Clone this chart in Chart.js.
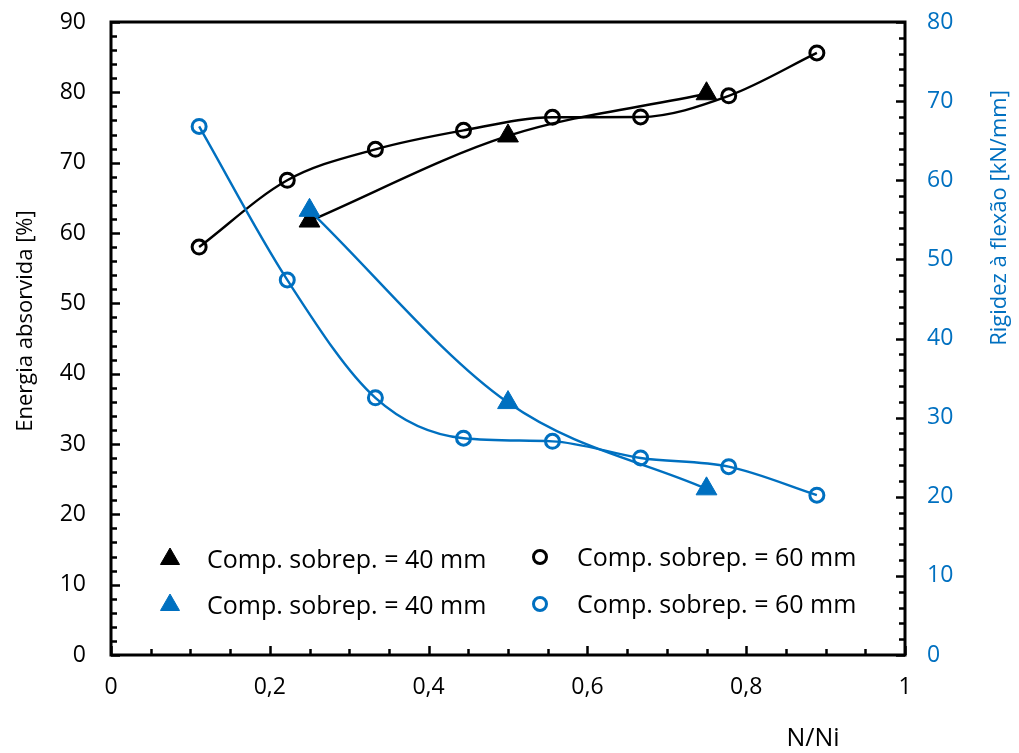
<!DOCTYPE html>
<html>
<head>
<meta charset="utf-8">
<script src="https://cdn.jsdelivr.net/npm/chart.js@4.4.0/dist/chart.umd.min.js"></script>
<style>
  html, body { margin: 0; padding: 0; background: #fff; }
  #caixa { width: 1019px; height: 753px; position: relative; }
</style>
</head>
<body>
<div id="caixa"><canvas id="grafico"></canvas></div>
<script>
// N/Ni dos ensaios
const nTri = [0.25, 0.5, 0.75];
const nCirc = [0.111, 0.222, 0.333, 0.444, 0.556, 0.667, 0.778, 0.889];

// energia absorvida [%]
const energia40 = [61.7, 73.8, 79.8];
const energia60 = [58.0, 67.5, 71.9, 74.6, 76.45, 76.5, 79.5, 85.6];

// rigidez a flexao [kN/mm]
const rigidez40 = [56.2, 31.9, 21.0];
const rigidez60 = [66.8, 47.4, 32.5, 27.4, 27.0, 24.9, 23.8, 20.2];

const legendas = ['Comp. sobrep. = 40 mm', 'Comp. sobrep. = 60 mm'];

const AZUL = '#0070C0';
const PRETO = '#000000';
const FONTE = '"Open Sans", "Noto Sans", sans-serif';

const pontos = (xs, ys) => xs.map((x, i) => ({ x: x, y: ys[i] }));

const serie = (dados, eixo, cor, estilo) => ({
  data: dados,
  yAxisID: eixo,
  showLine: true,
  cubicInterpolationMode: 'monotone',
  borderColor: cor,
  borderWidth: 2.4,
  pointStyle: estilo,
  pointRadius: estilo === 'triangle' ? 12 : 7,
  pointBorderWidth: estilo === 'triangle' ? 1 : 3,
  pointBorderColor: cor,
  pointBackgroundColor: estilo === 'triangle' ? cor : 'rgba(0,0,0,0)',
  fill: false
});

// moldura, marcas internas, titulos e legenda
const extras = {
  id: 'extras',
  afterDraw(chart) {
    const ctx = chart.ctx;
    const a = chart.chartArea;
    const sx = chart.scales.x, sy = chart.scales.y, sy2 = chart.scales.y2;
    ctx.save();
    ctx.strokeStyle = PRETO;
    ctx.lineWidth = 2.5;

    ctx.beginPath();
    for (let v = 0; v <= 90.001; v += 2) {
      const y = Math.round(sy.getPixelForValue(v)) + 0.5;
      const t = (Math.round(v) % 10 === 0) ? 9 : 6;
      ctx.moveTo(a.left, y); ctx.lineTo(a.left + t, y);
    }
    for (let v = 0; v <= 80.001; v += 2) {
      const y = Math.round(sy2.getPixelForValue(v)) + 0.5;
      const t = (Math.round(v) % 10 === 0) ? 9 : 6;
      ctx.moveTo(a.right, y); ctx.lineTo(a.right - t, y);
    }
    for (let k = 0; k <= 20; k++) {
      const x = Math.round(sx.getPixelForValue(k * 0.05)) + 0.5;
      const t = (k % 4 === 0) ? 9 : 6;
      ctx.moveTo(x, a.bottom); ctx.lineTo(x, a.bottom - t);
    }
    ctx.stroke();

    ctx.lineWidth = 3;
    ctx.strokeRect(a.left, a.top, a.right - a.left, a.bottom - a.top);

    // titulos dos eixos
    ctx.font = '22px ' + FONTE;
    ctx.textAlign = 'center';
    ctx.textBaseline = 'middle';
    ctx.fillStyle = PRETO;
    ctx.save();
    ctx.translate(26, 321);
    ctx.rotate(-Math.PI / 2);
    ctx.fillText('Energia absorvida [%]', 0, 0);
    ctx.restore();

    ctx.save();
    ctx.fillStyle = AZUL;
    ctx.translate(1000, 218);
    ctx.rotate(-Math.PI / 2);
    ctx.fillText('Rigidez à flexão [kN/mm]', 0, 0);
    ctx.restore();

    ctx.font = '25px ' + FONTE;
    ctx.fillText('N/Ni', 813, 739);

    // legenda
    const itens = [
      { ds: 2, x: 170, y: 559, txt: legendas[0] },
      { ds: 0, x: 170, y: 605, txt: legendas[0] },
      { ds: 3, x: 540, y: 557, txt: legendas[1] },
      { ds: 1, x: 540, y: 604, txt: legendas[1] }
    ];
    ctx.font = '25px ' + FONTE;
    ctx.textAlign = 'left';
    itens.forEach(it => {
      const d = chart.data.datasets[it.ds];
      ctx.fillStyle = d.pointBackgroundColor;
      ctx.strokeStyle = d.pointBorderColor;
      ctx.lineWidth = d.pointBorderWidth;
      Chart.helpers.drawPoint(ctx, {
        pointStyle: d.pointStyle,
        radius: d.pointStyle === 'triangle' ? 11 : 6.5,
        borderWidth: d.pointBorderWidth,
        rotation: 0
      }, it.x, it.y);
      ctx.fillStyle = PRETO;
      ctx.fillText(it.txt, it.x + 37, it.y + 2);
    });
    ctx.restore();
  }
};

const fmtX = v => (v === 0 || v === 1) ? String(v) : v.toFixed(1).replace('.', ',');

// larguras fixas dos eixos, sem folga extra para os rotulos
const fixaY = w => s => { s.width = w; s.paddingTop = 0; s.paddingBottom = 0; };

new Chart(document.getElementById('grafico'), {
  type: 'scatter',
  data: {
    datasets: [
      serie(pontos(nTri, rigidez40), 'y2', AZUL, 'triangle'),
      serie(pontos(nCirc, rigidez60), 'y2', AZUL, 'circle'),
      serie(pontos(nTri, energia40), 'y', PRETO, 'triangle'),
      serie(pontos(nCirc, energia60), 'y', PRETO, 'circle')
    ]
  },
  options: {
    responsive: true,
    maintainAspectRatio: false,
    animation: false,
    layout: { padding: { top: 22, left: 0, right: 0, bottom: 0 } },
    plugins: { legend: { display: false }, tooltip: { enabled: false } },
    scales: {
      x: {
        type: 'linear', min: 0, max: 1,
        grid: { display: false, drawTicks: false },
        border: { display: false },
        ticks: { stepSize: 0.2, padding: 19, color: PRETO, font: { family: FONTE, size: 23 }, callback: fmtX, maxRotation: 0 },
        afterFit: s => { s.height = 98; s.paddingLeft = 0; s.paddingRight = 0; }
      },
      y: {
        position: 'left', min: 0, max: 90,
        grid: { display: false, drawTicks: false },
        border: { display: false },
        ticks: { stepSize: 10, padding: 25, color: PRETO, font: { family: FONTE, size: 23 } },
        afterFit: fixaY(111)
      },
      y2: {
        position: 'right', min: 0, max: 80,
        grid: { display: false, drawTicks: false },
        border: { display: false },
        ticks: { stepSize: 10, padding: 22, color: AZUL, font: { family: FONTE, size: 23 } },
        afterFit: fixaY(114)
      }
    }
  },
  plugins: [extras]
});
</script>
</body>
</html>
